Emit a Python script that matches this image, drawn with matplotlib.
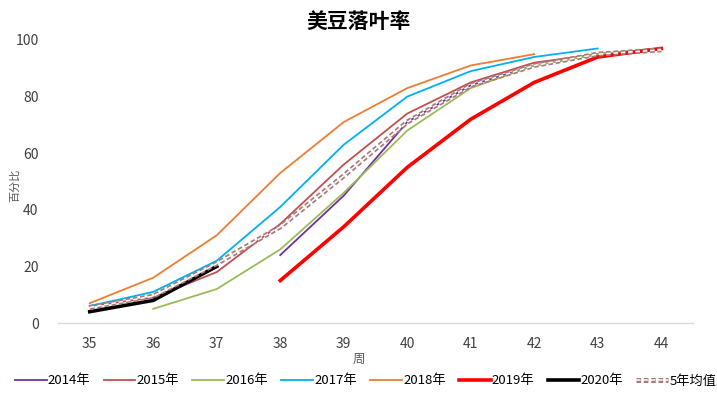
import matplotlib
matplotlib.use("Agg")
import matplotlib.pyplot as plt
import matplotlib.patheffects as pe

plt.rcParams['font.family'] = ['Noto Sans CJK SC', 'DejaVu Sans']

weeks = [35, 36, 37, 38, 39, 40, 41, 42, 43, 44]
x_ticks = [35, 36, 37, 38, 39, 40, 41, 42, 43, 44]
y_ticks = [0, 20, 40, 60, 80, 100]

w2014 = [38, 39, 40, 41, 42, 43, 44]
v2014 = [24, 45, 71, 84, 91, 95, 97]
w2015 = [35, 36, 37, 38, 39, 40, 41, 42, 43, 44]
v2015 = [6, 9, 18, 35, 56, 74, 85, 92, 95, 97]
w2016 = [36, 37, 38, 39, 40, 41, 42, 43, 44]
v2016 = [5, 12, 26, 46, 68, 83, 91, 95, 97]
w2017 = [35, 36, 37, 38, 39, 40, 41, 42, 43]
v2017 = [6, 11, 22, 41, 63, 80, 89, 94, 97]
w2018 = [35, 36, 37, 38, 39, 40, 41, 42]
v2018 = [7, 16, 31, 53, 71, 83, 91, 95]
w2019 = [38, 39, 40, 41, 42, 43, 44]
v2019 = [15, 34, 55, 72, 85, 94, 97]
w2020 = [35, 36, 37]
v2020 = [4, 8, 20]
wavg = [35, 36, 37, 38, 39, 40, 41, 42, 43, 44]
vavg = [5.5, 9.5, 21, 34, 52, 71, 84, 91, 95, 96.5]

fig = plt.figure(figsize=(7.17, 3.94), dpi=100)
ax = fig.add_axes([0.0809, 0.1802, 0.8856, 0.7183])

ax.plot(w2014, v2014, color='#7030A0', lw=1.3, label='2014年')
ax.plot(w2015, v2015, color='#C0504D', lw=1.3, label='2015年')
ax.plot(w2016, v2016, color='#9BBB59', lw=1.3, label='2016年')
ax.plot(w2017, v2017, color='#00B0F0', lw=1.3, label='2017年')
ax.plot(w2018, v2018, color='#ED7D31', lw=1.3, label='2018年')
ax.plot(w2019, v2019, color='#FF0000', lw=2.6, label='2019年')
ax.plot(w2020, v2020, color='#000000', lw=2.6, label='2020年')
ax.plot(wavg, vavg, color='#FFFFFF', lw=1.1, dashes=(3, 1.8), label='5年均值',
        path_effects=[pe.Stroke(linewidth=3.6, foreground='#A87A7A'), pe.Normal()])

ax.set_xlim(34.5, 44.5)
ax.set_ylim(0, 100)
ax.set_xticks(x_ticks)
ax.set_yticks(y_ticks)
ax.tick_params(axis='both', length=0, labelsize=10, colors='#404040')
ax.tick_params(axis='x', pad=10)
ax.tick_params(axis='y', pad=14)
for s in ['top', 'right', 'left']:
    ax.spines[s].set_visible(False)
ax.spines['bottom'].set_color('#D9D9D9')
ax.spines['bottom'].set_linewidth(1.0)

fig.text(0.5, 0.945, '美豆落叶率', ha='center', va='center', fontsize=15,
         fontweight='bold')
fig.text(0.5, 0.087, '周', ha='center', va='center', fontsize=9, color='#595959')
fig.text(0.021, 0.53, '百分比', ha='center', va='center', fontsize=8, color='#595959',
         rotation=90)

fig.legend(loc='center', bbox_to_anchor=(0.51, 0.033), ncol=8, frameon=False,
           fontsize=9.5, handlelength=2.4, handletextpad=0.1, columnspacing=1.0,
           borderpad=0, borderaxespad=0)

fig.savefig('out.png', dpi=100)
